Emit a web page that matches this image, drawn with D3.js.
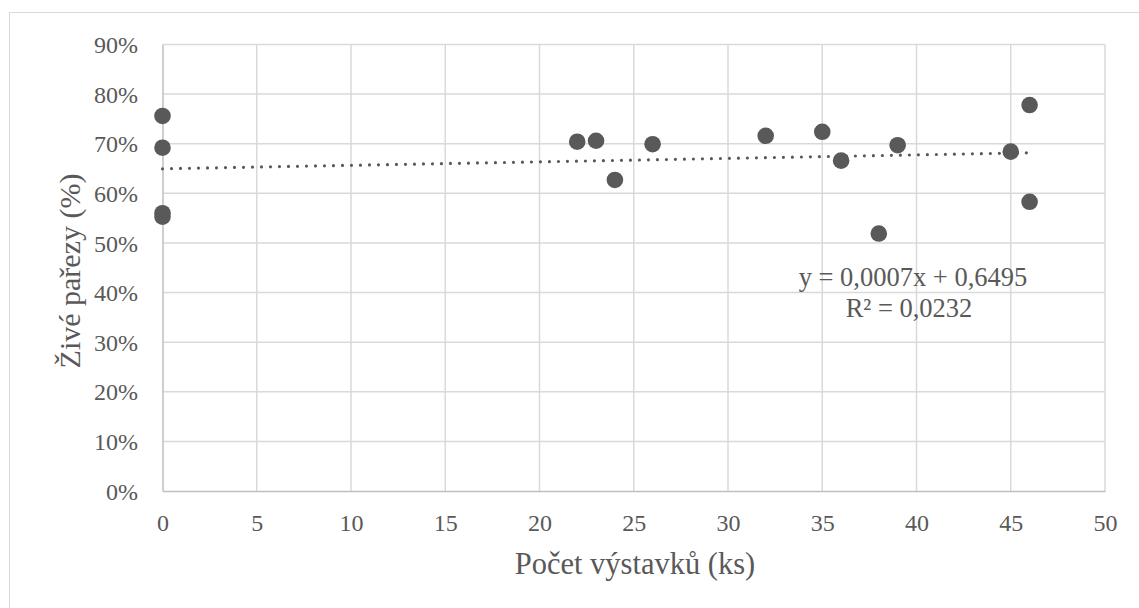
<!DOCTYPE html>
<html><head><meta charset="utf-8">
<script src="https://cdn.jsdelivr.net/npm/d3@7"></script>
<style>body{margin:0;background:#fff}svg{display:block}</style>
</head><body>
<svg id="c" width="1139" height="608"></svg>
<script>
const xVals = [0, 0, 0, 0, 22, 23, 24, 26, 32, 35, 36, 38, 39, 45, 46, 46];
const yVals = [0.756, 0.692, 0.560, 0.553, 0.704, 0.706, 0.627, 0.699, 0.716, 0.724, 0.666, 0.519, 0.697, 0.684, 0.778, 0.583];
const xTicks = [0, 5, 10, 15, 20, 25, 30, 35, 40, 45, 50];
const yTicks = [0, 0.1, 0.2, 0.3, 0.4, 0.5, 0.6, 0.7, 0.8, 0.9];
const slope = 0.0007, intercept = 0.6495;
const eqText = "y = 0,0007x + 0,6495";
const r2Text = "R² = 0,0232";
const xTitle = "Počet výstavků (ks)";
const yTitle = "Živé pařezy (%)";

const svg = d3.select("#c");
const L = 162.5, R = 1105, T = 44.5, B = 491;
const x = d3.scaleLinear().domain([0, 50]).range([L, R]);
const y = d3.scaleLinear().domain([0, 0.9]).range([B, T]);
const font = "'Liberation Serif', 'Times New Roman', serif";
const txt = "#595959";

svg.append("rect").attr("x", 9.5).attr("y", 12.5).attr("width", 1200).attr("height", 700)
  .attr("fill", "none").attr("stroke", "#d9d9d9").attr("stroke-width", 1);

// grid
svg.append("g").selectAll("line.h").data(yTicks.slice(1)).join("line")
  .attr("x1", L).attr("x2", R).attr("y1", d => y(d)).attr("y2", d => y(d))
  .attr("stroke", "#d9d9d9").attr("stroke-width", 1.5);
svg.append("g").selectAll("line.v").data(xTicks.slice(1)).join("line")
  .attr("y1", T).attr("y2", B).attr("x1", d => x(d)).attr("x2", d => x(d))
  .attr("stroke", "#d9d9d9").attr("stroke-width", 1.5);

// axes
const xAxis = svg.append("g").attr("transform", `translate(0,${B})`)
  .call(d3.axisBottom(x).tickValues(xTicks).tickSize(0).tickFormat(d3.format("d")));
xAxis.selectAll("text").attr("y", 39.5).attr("dy", 0);
const yAxis = svg.append("g").attr("transform", `translate(${L},0)`)
  .call(d3.axisLeft(y).tickValues(yTicks).tickSize(0).tickPadding(24.5).tickFormat(d3.format(".0%")));
yAxis.selectAll("text").attr("dy", "0.34em");
[xAxis, yAxis].forEach(a => {
  a.select(".domain").attr("stroke", "#bfbfbf").attr("stroke-width", 1.5);
  a.selectAll("text").attr("font-family", font).attr("font-size", 24).attr("fill", txt);
});

// trendline
svg.append("line")
  .attr("x1", x(0)).attr("y1", y(intercept))
  .attr("x2", x(46)).attr("y2", y(intercept + slope * 46))
  .attr("stroke", "#595959").attr("stroke-width", 3.2)
  .attr("stroke-dasharray", "0 9").attr("stroke-linecap", "round");

// points
svg.append("g").selectAll("circle").data(xVals.map((d, i) => [d, yVals[i]])).join("circle")
  .attr("cx", d => x(d[0])).attr("cy", d => y(d[1])).attr("r", 8.3).attr("fill", "#595959");

// equation
svg.append("text").attr("x", 913).attr("y", 286).attr("text-anchor", "middle")
  .attr("font-family", font).attr("font-size", 26.5).attr("fill", txt).text(eqText);
svg.append("text").attr("x", 909).attr("y", 317).attr("text-anchor", "middle")
  .attr("font-family", font).attr("font-size", 26.5).attr("fill", txt).text(r2Text);

// titles
svg.append("text").attr("x", 635).attr("y", 574).attr("text-anchor", "middle")
  .attr("font-family", font).attr("font-size", 30.5).attr("fill", txt).text(xTitle);
svg.append("text").attr("transform", `translate(80,271) rotate(-90)`).attr("text-anchor", "middle")
  .attr("font-family", font).attr("font-size", 30).attr("fill", txt).text(yTitle);
</script>
</body></html>
